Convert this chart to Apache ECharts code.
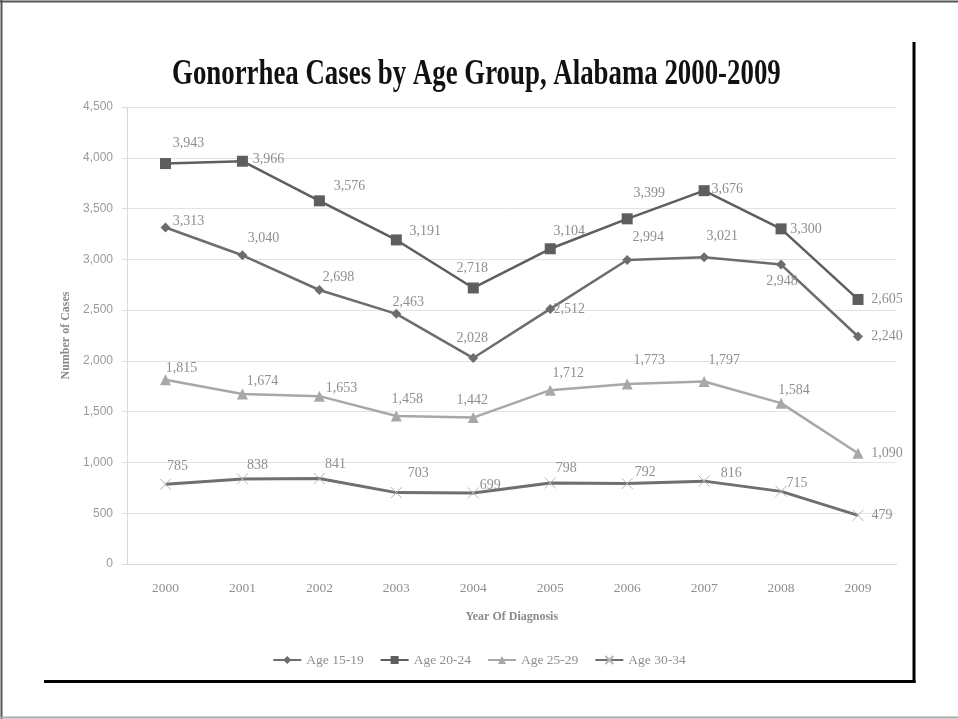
<!DOCTYPE html>
<html>
<head>
<meta charset="utf-8">
<script src="https://cdn.jsdelivr.net/npm/echarts@6/dist/echarts.min.js"></script>
<style>html,body{margin:0;padding:0;background:#fff;}#c{width:958px;height:719px;}</style>
</head>
<body>
<div id="c"></div>
<script>
var years = ['2000','2001','2002','2003','2004','2005','2006','2007','2008','2009'];
var seriesNames = ['Age 15-19','Age 20-24','Age 25-29','Age 30-34'];
var age1519 = [3313, 3040, 2698, 2463, 2028, 2512, 2994, 3021, 2948, 2240];
var age2024 = [3943, 3966, 3576, 3191, 2718, 3104, 3399, 3676, 3300, 2605];
var age2529 = [1815, 1674, 1653, 1458, 1442, 1712, 1773, 1797, 1584, 1090];
var age3034 = [785, 838, 841, 703, 699, 798, 792, 816, 715, 479];
var yTicks = [0, 500, 1000, 1500, 2000, 2500, 3000, 3500, 4000, 4500];

// label placement (style only): label centre offset from the point, px
var off1519 = [[23,-6],[21,-17],[19,-13],[12,-12],[-1,-20],[19,0],[21,-23],[18,-21],[1,17],[29,0]];
var off2024 = [[23,-20],[26,-2],[30,-15],[29,-9],[-1,-20],[19,-17],[22,-25],[23,-1],[25,0],[29,0]];
var off2529 = [[16,-11],[20,-13],[22,-8],[11,-17],[-1,-17],[18,-17],[22,-24],[20,-21],[13,-13],[29,0]];
var off3034 = [[12,-18],[15,-14],[16,-14],[22,-19],[17,-8],[16,-15],[18,-11],[27,-8],[16,-8],[24,0]];

function fmt(v){ return v.toLocaleString('en-US'); }
function build(vals, offs){
  return vals.map(function(v,i){
    return {value: v, label: {offset: offs[i]}};
  });
}
var labelBase = {
  show: true, position: 'inside',
  fontFamily: 'Liberation Serif', fontSize: 14, color: '#8f8f8f',
  formatter: function(p){ return fmt(p.value); }
};

var chart = echarts.init(document.getElementById('c'), null, {renderer: 'canvas'});
chart.setOption({
  backgroundColor: '#ffffff',
  animation: false,
  grid: {left: 127, right: 61.5, top: 107, bottom: 155, containLabel: false},
  legend: {
    bottom: 47, left: 'center',
    itemWidth: 28, itemHeight: 10, itemGap: 16,
    textStyle: {fontFamily: 'Liberation Serif', fontSize: 13.5, color: '#8f8f8f'},
    data: seriesNames
  },
  xAxis: {
    type: 'category', data: years, boundaryGap: true,
    name: 'Year Of Diagnosis', nameLocation: 'middle', nameGap: 47,
    nameTextStyle: {fontFamily: 'Liberation Serif', fontWeight: 'bold', fontSize: 12, color: '#8a8a8a'},
    axisLine: {show: true, lineStyle: {color: '#d9d9d9', width: 1}},
    axisTick: {show: false},
    axisLabel: {fontFamily: 'Liberation Serif', fontSize: 13.5, color: '#8f8f8f', margin: 17}
  },
  yAxis: {
    type: 'value', min: 0, max: 4500, interval: 500,
    name: 'Number of Cases', nameLocation: 'middle', nameGap: 53, nameRotate: 90,
    nameTextStyle: {fontFamily: 'Liberation Serif', fontWeight: 'bold', fontSize: 12, color: '#8a8a8a'},
    axisLine: {show: true, lineStyle: {color: '#d9d9d9', width: 1}},
    axisTick: {show: true, inside: false, length: 5, lineStyle: {color: '#d9d9d9'}},
    splitLine: {show: true, lineStyle: {color: '#e3e3e3', width: 1}},
    axisLabel: {
      fontFamily: 'Liberation Sans', fontSize: 12, color: '#9a9a9a', margin: 14,
      formatter: function(v){ return fmt(v); }
    }
  },
  series: [
    {
      name: seriesNames[0], type: 'line', data: build(age1519, off1519),
      symbol: 'diamond', symbolSize: 10,
      lineStyle: {color: '#6d6d6d', width: 2.5},
      itemStyle: {color: '#6d6d6d'},
      label: labelBase, z: 3
    },
    {
      name: seriesNames[1], type: 'line', data: build(age2024, off2024),
      symbol: 'rect', symbolSize: 11,
      lineStyle: {color: '#5e5e5e', width: 2.5},
      itemStyle: {color: '#5e5e5e'},
      label: labelBase, z: 4
    },
    {
      name: seriesNames[2], type: 'line', data: build(age2529, off2529),
      symbol: 'triangle', symbolSize: 11,
      lineStyle: {color: '#a8a8a8', width: 2.5},
      itemStyle: {color: '#a8a8a8'},
      label: labelBase, z: 2
    },
    {
      name: seriesNames[3], type: 'line', data: build(age3034, off3034),
      symbol: 'path://M0,0L10,10M10,0L0,10', symbolSize: 11,
      lineStyle: {color: '#6f6f6f', width: 3},
      itemStyle: {color: 'rgba(0,0,0,0)', borderColor: '#b5b5b5', borderWidth: 1},
      label: labelBase, z: 1
    }
  ],
  graphic: [
    {type: 'text', x: 172, y: 57, scaleX: 0.767, scaleY: 1, style: {
      text: 'Gonorrhea Cases by Age Group, Alabama 2000-2009',
      font: 'bold 35px "Liberation Serif"', fill: '#111'
    }, z: 10},
    {type: 'line', shape: {x1: 1.5, y1: 0, x2: 1.5, y2: 719}, style: {stroke: '#555', lineWidth: 2}},
    {type: 'line', shape: {x1: 0, y1: 1.5, x2: 958, y2: 1.5}, style: {stroke: '#555', lineWidth: 2}},
    {type: 'line', shape: {x1: 0, y1: 717.5, x2: 958, y2: 717.5}, style: {stroke: '#aaa', lineWidth: 2}},
    {type: 'line', shape: {x1: 914, y1: 42, x2: 914, y2: 683}, style: {stroke: '#000', lineWidth: 3}},
    {type: 'line', shape: {x1: 44, y1: 681.5, x2: 915.5, y2: 681.5}, style: {stroke: '#000', lineWidth: 3}}
  ]
});
</script>
</body>
</html>
